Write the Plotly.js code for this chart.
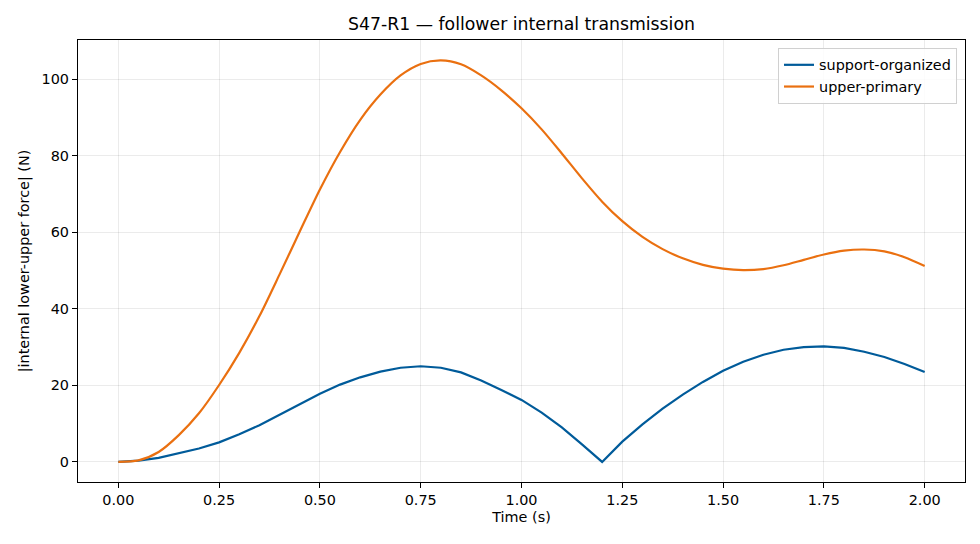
<!DOCTYPE html>
<html>
<head>
<meta charset="utf-8">
<script src="https://cdn.plot.ly/plotly-3.0.1.min.js"></script>
<style>
  html, body { margin: 0; padding: 0; background: #fff; }
  #chart { width: 980px; height: 544px; }
</style>
</head>
<body>
<div id="chart"></div>
<script>
// time samples (s), every 0.05 s
var time = [0.00, 0.05, 0.10, 0.15, 0.20, 0.25, 0.30, 0.35, 0.40, 0.45,
            0.50, 0.55, 0.60, 0.65, 0.70, 0.75, 0.80, 0.85, 0.90, 0.95,
            1.00, 1.05, 1.10, 1.15, 1.20, 1.25, 1.30, 1.35, 1.40, 1.45,
            1.50, 1.55, 1.60, 1.65, 1.70, 1.75, 1.80, 1.85, 1.90, 1.95, 2.00];

var supportOrganized = [0.0, 0.35, 1.05, 2.2, 3.5, 5.1, 7.2, 9.6, 12.3, 15.0,
                        17.8, 20.2, 22.1, 23.6, 24.6, 25.0, 24.6, 23.4, 21.3, 18.8,
                        16.2, 12.9, 9.0, 4.6, 0.0, 5.3, 9.8, 13.9, 17.6, 20.9,
                        23.8, 26.2, 28.0, 29.3, 30.0, 30.2, 29.8, 28.8, 27.4, 25.6, 23.5];

var upperPrimary = [0.0, 0.4, 2.6, 7.0, 12.7, 20.1, 28.5, 38.1, 49.0, 60.2,
                    71.2, 81.0, 89.4, 96.0, 101.0, 104.0, 104.9, 103.9, 101.0, 97.1,
                    92.4, 86.9, 80.6, 74.1, 68.0, 62.9, 58.8, 55.6, 53.2, 51.5,
                    50.5, 50.1, 50.4, 51.4, 52.8, 54.2, 55.2, 55.5, 55.0, 53.5, 51.2];

var seriesNames = ['support-organized', 'upper-primary'];

var traces = [
  {
    // straight segments keep the sharp notch at 1.2 s
    x: time, y: supportOrganized, name: seriesNames[0],
    type: 'scatter', mode: 'lines',
    line: {color: '#005b9a', width: 2.2}
  },
  {
    x: time, y: upperPrimary, name: seriesNames[1],
    type: 'scatter', mode: 'lines',
    line: {color: '#ea7010', width: 2.2, shape: 'spline', smoothing: 0.8}
  }
];

var FONT = 'DejaVu Sans';

var axisCommon = {
  showline: true, linecolor: '#000', linewidth: 1.15, mirror: true,
  ticks: 'outside', ticklen: 5, tickwidth: 1.15, tickcolor: '#000',
  showgrid: true, gridcolor: 'rgba(0,0,0,0.08)', gridwidth: 1,
  zeroline: false,
  tickfont: {family: FONT, size: 14.4, color: '#000'}
};

var layout = {
  width: 980, height: 544,
  margin: {l: 78, r: 15, t: 40, b: 62},
  paper_bgcolor: '#fff', plot_bgcolor: '#fff',
  font: {family: FONT, color: '#000'},
  title: {
    text: 'S47-R1 — follower internal transmission',
    font: {family: FONT, size: 17.3, color: '#000'},
    xref: 'paper', x: 0.5, xanchor: 'center',
    yref: 'container', y: 0.956, yanchor: 'middle'
  },
  xaxis: Object.assign({}, axisCommon, {
    range: [-0.1, 2.1], tick0: 0, dtick: 0.25, tickformat: '.2f',
    title: {text: 'Time (s)', font: {family: FONT, size: 14.4, color: '#000'}, standoff: 4}
  }),
  yaxis: Object.assign({}, axisCommon, {
    range: [-5.25, 110.25], tick0: 0, dtick: 20,
    title: {text: '|internal lower-upper force| (N)', font: {family: FONT, size: 14.4, color: '#000'}, standoff: 8}
  }),
  legend: {
    x: 0.991, xanchor: 'right', y: 0.982, yanchor: 'top',
    bgcolor: 'rgba(255,255,255,0.85)', bordercolor: '#d0d0d0', borderwidth: 1,
    font: {family: FONT, size: 14.4, color: '#000'},
    tracegroupgap: 0
  },
  showlegend: true
};

Plotly.newPlot('chart', traces, layout, {displayModeBar: false, staticPlot: true});
</script>
</body>
</html>
